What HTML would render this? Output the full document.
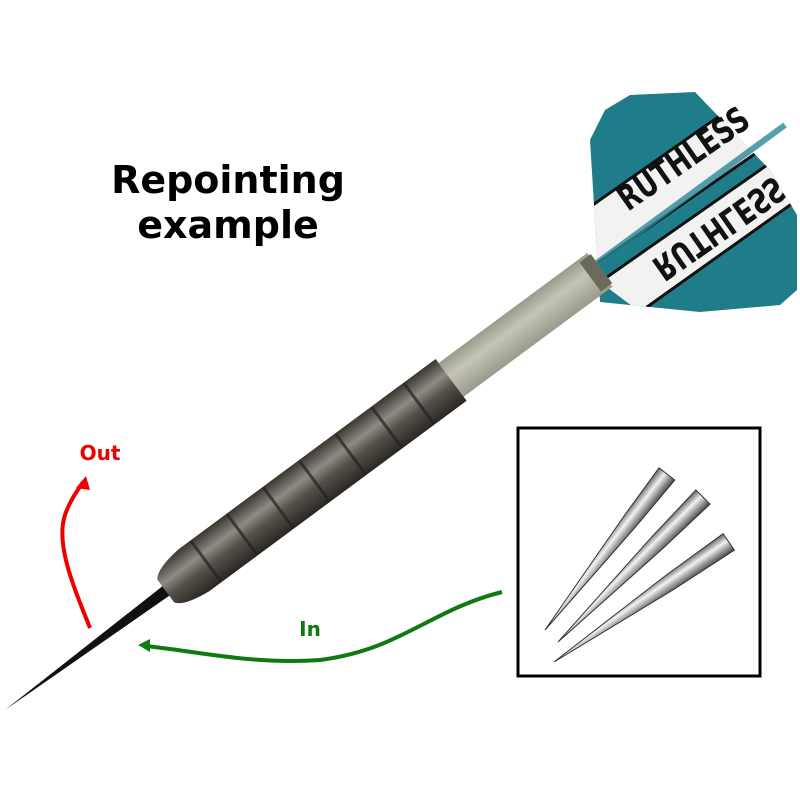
<!DOCTYPE html>
<html><head><style>html,body{margin:0;background:#fff}svg{display:block}</style></head><body>
<svg width="800" height="800" viewBox="0 0 800 800" xmlns="http://www.w3.org/2000/svg">
<defs>
<clipPath id="fl"><polygon points="605,110 630,95 695,92 770,170 797,215 797,290 780,305 700,312 600,302 590,140"/></clipPath>
<linearGradient id="bar" x1="0" y1="0" x2="0" y2="1"><stop offset="0" stop-color="#3a3630"/><stop offset="0.35" stop-color="#8f8a82"/><stop offset="0.6" stop-color="#55514a"/><stop offset="1" stop-color="#2a2622"/></linearGradient>
<linearGradient id="sh" x1="0" y1="0" x2="0" y2="1"><stop offset="0" stop-color="#9a9a8c"/><stop offset="0.4" stop-color="#c4c4b8"/><stop offset="1" stop-color="#9a9a8c"/></linearGradient>
<linearGradient id="pt" x1="0" y1="0" x2="0" y2="1"><stop offset="0" stop-color="#666"/><stop offset="0.4" stop-color="#f2f2f2"/><stop offset="1" stop-color="#444"/></linearGradient>
</defs>
<text x="228" y="193" font-family="DejaVu Sans, sans-serif" font-weight="bold" font-size="38" text-anchor="middle">Repointing</text>
<text x="228" y="238" font-family="DejaVu Sans, sans-serif" font-weight="bold" font-size="38" text-anchor="middle">example</text>
<g clip-path="url(#fl)">
<rect x="580" y="85" width="220" height="230" fill="#1f7d8a"/>
<polygon points="560,228 745,98 775,140 580,275" fill="#f2f2f2"/>
<line x1="560" y1="228" x2="745" y2="98" stroke="#111" stroke-width="3"/>
<line x1="580" y1="275" x2="775" y2="140" stroke="#111" stroke-width="3"/>
<polygon points="600,282 800,142 800,198 640,312" fill="#f2f2f2"/>
<line x1="600" y1="282" x2="800" y2="142" stroke="#111" stroke-width="3"/>
<line x1="640" y1="312" x2="800" y2="198" stroke="#111" stroke-width="3"/>
</g>
<text transform="translate(628,212) rotate(-35) scale(0.9,1.2)" font-family="DejaVu Sans, sans-serif" font-weight="bold" font-size="29" fill="#111">RUTHLESS</text>
<text transform="translate(650,262) rotate(-35) scale(0.9,-1.2)" font-family="DejaVu Sans, sans-serif" font-weight="bold" font-size="29" fill="#111">RUTHLESS</text>
<line x1="590" y1="268" x2="785" y2="125" stroke="#2c8898" stroke-width="6" opacity="0.8"/>
<g transform="translate(5,710) rotate(-36.5)">
<polygon points="0,0 205,-6 205,6" fill="#111"/>
<path d="M200,-14 Q205,-23 235,-26 L555,-26 L555,26 L235,26 Q205,23 200,14 Z" fill="url(#bar)"/>
<g stroke="#222" stroke-width="3" opacity="0.7">
<line x1="250" y1="-25" x2="250" y2="25"/><line x1="295" y1="-25" x2="295" y2="25"/><line x1="340" y1="-25" x2="340" y2="25"/><line x1="385" y1="-25" x2="385" y2="25"/><line x1="430" y1="-25" x2="430" y2="25"/><line x1="475" y1="-25" x2="475" y2="25"/><line x1="515" y1="-25" x2="515" y2="25"/>
</g>
<rect x="555" y="-21" width="185" height="42" fill="url(#sh)"/>
<rect x="728" y="-18" width="14" height="36" fill="#6a6a5c"/>
</g>
<path d="M90,628 C75,590 55,545 65,515 C70,500 78,490 83,482" fill="none" stroke="#e00" stroke-width="4"/>
<polygon points="86,476 76,488 90,490" fill="#e00"/>
<text x="100" y="460" font-family="DejaVu Sans, sans-serif" font-weight="bold" font-size="20" fill="#e00" text-anchor="middle">Out</text>
<path d="M502,592 C430,610 400,650 320,660 C250,665 190,650 145,646" fill="none" stroke="#107a10" stroke-width="4"/>
<polygon points="138,645 150,639 150,652" fill="#107a10"/>
<text x="310" y="636" font-family="DejaVu Sans, sans-serif" font-weight="bold" font-size="20" fill="#107a10" text-anchor="middle">In</text>
<rect x="518" y="428" width="242" height="248" fill="#fff" stroke="#000" stroke-width="3"/>
<g fill="url(#pt)" stroke="#333" stroke-width="1">
<g transform="translate(545,630) rotate(-52)"><polygon points="0,0 140,-8 198,-10 198,10 140,8"/></g>
<g transform="translate(558,642) rotate(-45)"><polygon points="0,0 140,-8 205,-10 205,10 140,8"/></g>
<g transform="translate(554,662) rotate(-34.5)"><polygon points="0,0 140,-8 212,-10 212,10 140,8"/></g>
</g>
</svg>
</body></html>
